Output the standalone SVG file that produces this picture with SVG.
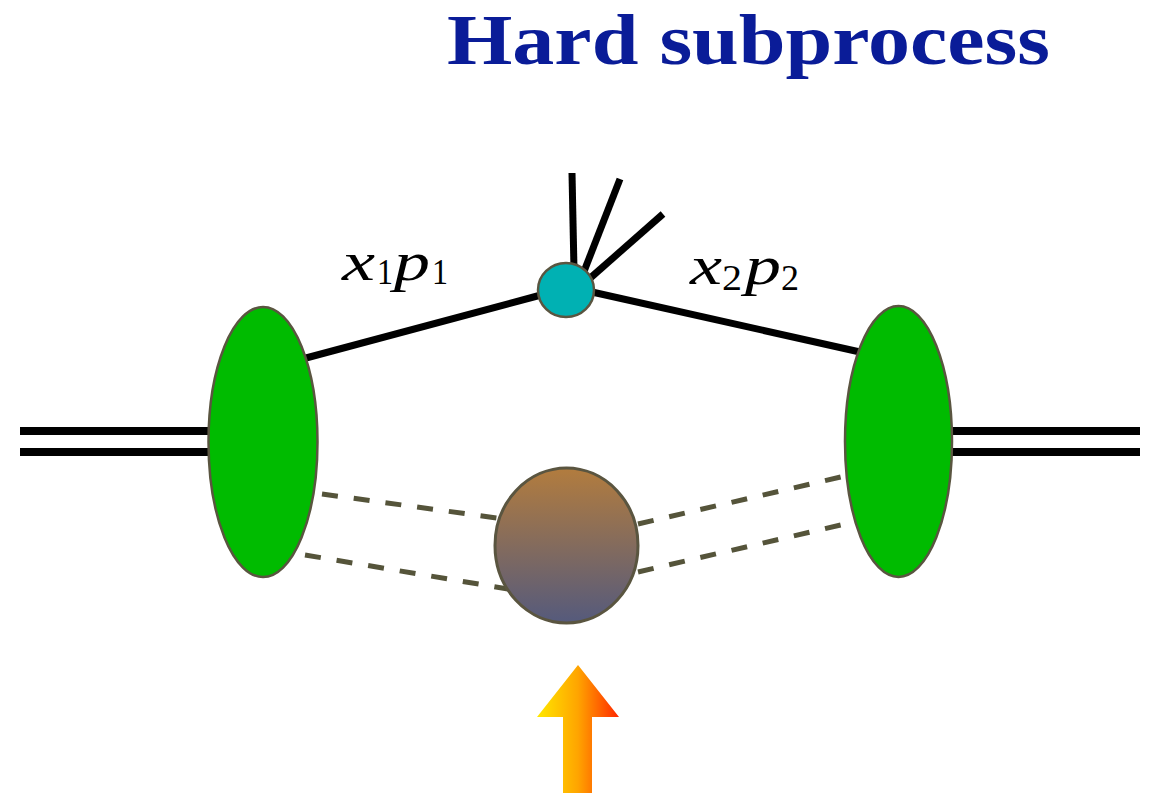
<svg xmlns="http://www.w3.org/2000/svg" width="1154" height="793" viewBox="0 0 1154 793">
  <defs>
    <linearGradient id="ballGrad" x1="0" y1="0" x2="0" y2="1">
      <stop offset="0" stop-color="#b27c3e"/>
      <stop offset="1" stop-color="#555a7c"/>
    </linearGradient>
    <linearGradient id="arrowGrad" gradientUnits="userSpaceOnUse" x1="537" y1="0" x2="619" y2="0">
      <stop offset="0" stop-color="#ffe800"/>
      <stop offset="0.5" stop-color="#ffa400"/>
      <stop offset="1" stop-color="#ff2800"/>
    </linearGradient>
    <style>
      .beam { stroke: #000; stroke-width: 8; fill: none; }
      .parton { stroke: #000; stroke-width: 7; fill: none; stroke-linecap: butt; }
      .remnant { stroke: #55543a; stroke-width: 5; fill: none; stroke-dasharray: 16 16; }
      .blob { fill: #00bb00; stroke: #5a5540; stroke-width: 2.5; }
      .math { font-family: "Liberation Serif", "DejaVu Serif", serif; fill: #000; }
      .it { font-style: italic; }
      .title { font-family: "Liberation Serif", "Times New Roman", serif; font-weight: bold; fill: #0a1c98; }
    </style>
  </defs>
  <rect width="1154" height="793" fill="#fff"/>

  <text class="title" x="447" y="64" font-size="72" textLength="603" lengthAdjust="spacingAndGlyphs">Hard subprocess</text>

  <g id="connectors">
    <line class="beam" x1="20" y1="431" x2="208" y2="431"/>
    <line class="beam" x1="20" y1="452" x2="208" y2="452"/>
    <line class="beam" x1="952" y1="431" x2="1140" y2="431"/>
    <line class="beam" x1="952" y1="452" x2="1140" y2="452"/>
    <line class="parton" x1="306" y1="358" x2="541" y2="295"/>
    <line class="parton" x1="592" y1="292" x2="860" y2="352"/>
    <line class="parton" x1="572" y1="173" x2="574" y2="270"/>
    <line class="parton" x1="620" y1="179" x2="583" y2="274"/>
    <line class="parton" x1="663" y1="214" x2="588" y2="280"/>
    <line class="remnant" x1="322" y1="494" x2="497" y2="518"/>
    <line class="remnant" x1="305" y1="555" x2="508" y2="589"/>
    <line class="remnant" x1="638" y1="524" x2="845" y2="476"/>
    <line class="remnant" x1="638" y1="572" x2="845" y2="524"/>
  </g>

  <g id="proton1">
    <ellipse class="blob" cx="263" cy="442" rx="54.5" ry="135"/>
  </g>
  <g id="proton2">
    <ellipse class="blob" cx="898.5" cy="441.5" rx="53.5" ry="135.5"/>
  </g>
  <g id="hard-vertex">
    <ellipse cx="566" cy="290" rx="28" ry="27" fill="#00b1b3" stroke="#5a5540" stroke-width="2.5"/>
  </g>
  <g id="underlying-event">
    <ellipse cx="566.5" cy="545.5" rx="71.5" ry="77.5" fill="url(#ballGrad)" stroke="#5a5540" stroke-width="3"/>
  </g>
  <g id="arrow">
    <polygon points="578,665 619,717 592,717 592,793 563,793 563,717 537,717" fill="url(#arrowGrad)"/>
  </g>

  <g id="label-x1p1" class="math">
    <text x="342" y="280" font-size="54" class="it" textLength="33" lengthAdjust="spacingAndGlyphs">x</text>
    <text x="377" y="284" font-size="36" textLength="16" lengthAdjust="spacingAndGlyphs">1</text>
    <text x="394" y="280" font-size="54" class="it" textLength="36" lengthAdjust="spacingAndGlyphs">p</text>
    <text x="432" y="284" font-size="36" textLength="16" lengthAdjust="spacingAndGlyphs">1</text>
  </g>
  <g id="label-x2p2" class="math">
    <text x="690" y="284" font-size="54" class="it" textLength="32" lengthAdjust="spacingAndGlyphs">x</text>
    <text x="722" y="290" font-size="36" textLength="20" lengthAdjust="spacingAndGlyphs">2</text>
    <text x="745" y="284" font-size="54" class="it" textLength="36" lengthAdjust="spacingAndGlyphs">p</text>
    <text x="781" y="290" font-size="36" textLength="18" lengthAdjust="spacingAndGlyphs">2</text>
  </g>
</svg>
